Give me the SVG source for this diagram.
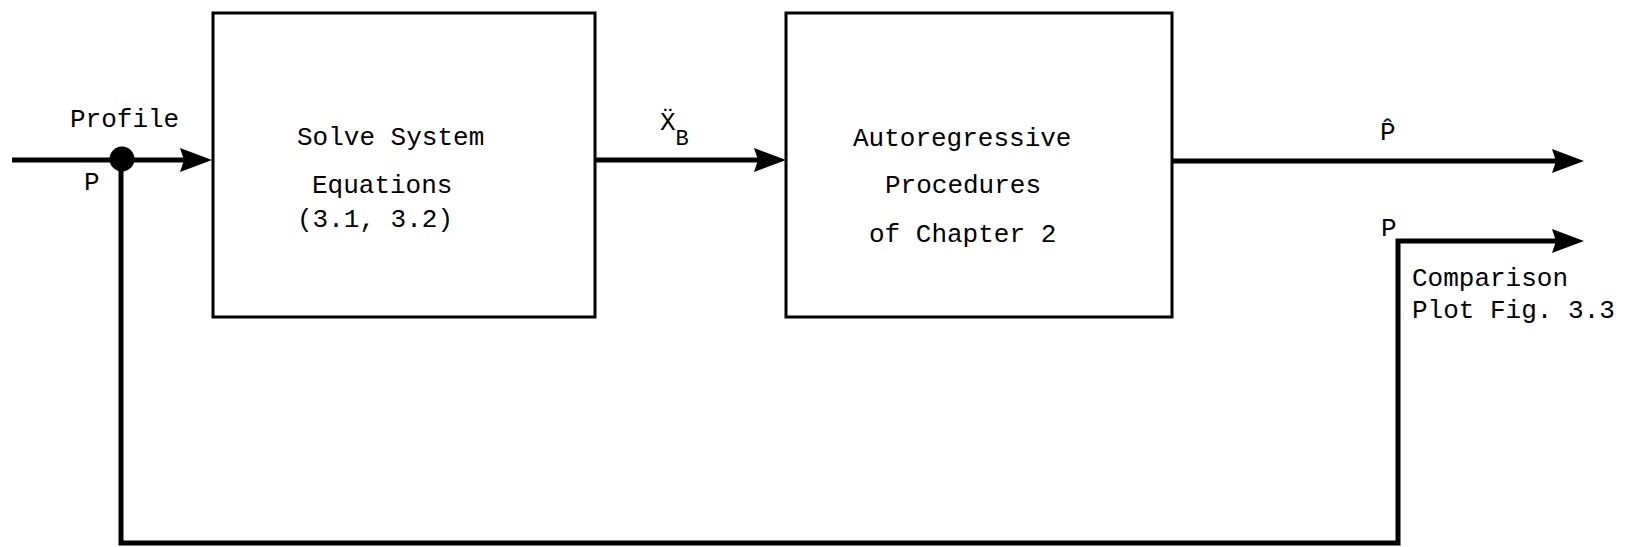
<svg xmlns="http://www.w3.org/2000/svg" width="1629" height="547" viewBox="0 0 1629 547">
<defs>
<style>
text{font-family:"Liberation Mono","DejaVu Sans Mono",monospace;font-size:26px;fill:#000}
.box{fill:#fff;stroke:#000;stroke-width:3}
.wire{fill:none;stroke:#000;stroke-width:5}
</style>
<marker id="arr" markerUnits="userSpaceOnUse" markerWidth="34" markerHeight="26" refX="12" refY="12" orient="auto">
<path d="M0,0 L32,12 L0,24 L4,12 Z" fill="#000"/>
</marker>
</defs>
<rect width="1629" height="547" fill="#fff"/>
<g id="connectors">
<line class="wire" x1="12" y1="160" x2="192" y2="160" marker-end="url(#arr)"/>
<line class="wire" x1="595" y1="160" x2="766" y2="160" marker-end="url(#arr)"/>
<line class="wire" x1="1171" y1="161" x2="1564" y2="161" marker-end="url(#arr)"/>
<polyline class="wire" points="121,160 121,543 1398,543 1398,241 1564,241" marker-end="url(#arr)"/>
<circle cx="122" cy="159" r="12.5" fill="#000"/>
</g>
<g id="input-label">
<text x="70" y="127">Profile</text>
<text x="84" y="190">P</text>
</g>
<g id="solve">
<rect class="box" x="213" y="13" width="382" height="304"/>
<text x="297" y="145">Solve System</text>
<text x="312" y="193">Equations</text>
<text x="297" y="227">(3.1, 3.2)</text>
</g>
<g id="xb-label">
<text x="660" y="130">&#x1E8C;<tspan dy="15" style="font-size:22px">B</tspan></text>
</g>
<g id="autoreg">
<rect class="box" x="786" y="13" width="386" height="304"/>
<text x="853" y="146">Autoregressive</text>
<text x="885" y="193">Procedures</text>
<text x="869" y="242">of Chapter 2</text>
</g>
<g id="outputs">
<text x="1380" y="140">P&#x0302;</text>
<text x="1381" y="236">P</text>
<text x="1412" y="286">Comparison</text>
<text x="1412" y="318">Plot Fig. 3.3</text>
</g>
</svg>
